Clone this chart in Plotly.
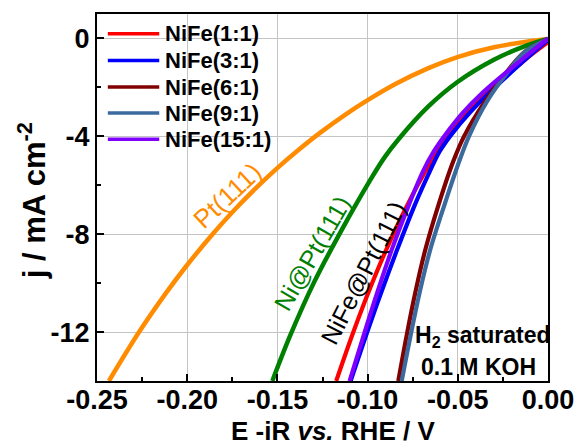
import plotly.graph_objects as go

# Polarisation curves: E - iR vs RHE (V) and current density j (mA cm^-2)
pt_E = [0.0, -0.0120, -0.0300, -0.0502, -0.0666, -0.0846, -0.0993, -0.1119, -0.1266,
        -0.1392, -0.1501, -0.1621, -0.1736, -0.1856, -0.2009, -0.2118, -0.2265, -0.2434]
pt_j = [-0.02, -0.13, -0.36, -0.76, -1.22, -1.86, -2.49, -3.09, -3.87,
        -4.61, -5.30, -6.13, -6.99, -7.97, -9.34, -10.41, -11.98, -14.0]

ni_E = [0.0, -0.0120, -0.0300, -0.0502, -0.0666, -0.0824, -0.0906, -0.0993,
        -0.1135, -0.1299, -0.1430, -0.1528]
ni_j = [-0.02, -0.29, -0.87, -1.78, -2.80, -4.08, -4.86, -5.88,
        -7.71, -10.00, -12.16, -14.0]

nife11_E = [0.0, -0.0126, -0.0338, -0.0450, -0.0546, -0.0614, -0.0680, -0.0778,
            -0.0895, -0.0993, -0.1081, -0.1174]
nife11_j = [-0.15, -0.86, -2.24, -3.06, -3.92, -4.61, -5.43, -6.78,
            -8.61, -10.33, -12.04, -14.0]

nife31_E = [0.0, -0.0126, -0.0328, -0.0437, -0.0535, -0.0600, -0.0655, -0.0737,
            -0.0835, -0.0922, -0.1004, -0.1094]
nife31_j = [-0.05, -0.86, -2.24, -3.06, -3.92, -4.61, -5.43, -6.78,
            -8.61, -10.33, -12.04, -14.0]

nife61_E = [0.0, -0.0126, -0.0213, -0.0349, -0.0464, -0.0524, -0.0606, -0.0682,
            -0.0734, -0.0781, -0.0830]
nife61_j = [-0.02, -0.53, -1.22, -2.57, -3.98, -5.00, -6.78, -8.69,
            -10.33, -12.04, -14.0]

nife91_E = [0.0, -0.0126, -0.0207, -0.0338, -0.0437, -0.0491, -0.0573, -0.0655,
            -0.0710, -0.0759, -0.0811]
nife91_j = [-0.03, -0.53, -1.22, -2.57, -3.98, -5.00, -6.78, -8.69,
            -10.33, -12.04, -14.0]

nife151_E = [0.0, -0.0145, -0.0366, -0.0475, -0.0568, -0.0633, -0.0693, -0.0770,
             -0.0865, -0.0944, -0.1018, -0.1100]
nife151_j = [0.0, -0.86, -2.24, -3.06, -3.92, -4.61, -5.43, -6.78,
             -8.61, -10.33, -12.04, -14.0]

nife_series = [
    ("NiFe(1:1)", nife11_E, nife11_j, "#ff0000"),
    ("NiFe(3:1)", nife31_E, nife31_j, "#0000ff"),
    ("NiFe(6:1)", nife61_E, nife61_j, "#800000"),
    ("NiFe(9:1)", nife91_E, nife91_j, "#3a6a9e"),
    ("NiFe(15:1)", nife151_E, nife151_j, "#8000ff"),
]

x_ticks = [-0.25, -0.20, -0.15, -0.10, -0.05, 0.00]
x_ticktext = ["-0.25", "-0.20", "-0.15", "-0.10", "-0.05", "0.00"]
y_ticks = [0, -4, -8, -12]
y_ticktext = ["0", "-4", "-8", "-12"]

FONT = "Liberation Sans, Arial, sans-serif"

fig = go.Figure()

spline = dict(shape="spline", smoothing=1.0)
fig.add_trace(go.Scatter(x=pt_E, y=pt_j, mode="lines", name="Pt(111)", showlegend=False,
                         line=dict(color="#ff8c00", width=4.5, **spline)))
fig.add_trace(go.Scatter(x=ni_E, y=ni_j, mode="lines", name="Ni@Pt(111)", showlegend=False,
                         line=dict(color="#008000", width=4.5, **spline)))
for name, es, js, color in nife_series:
    fig.add_trace(go.Scatter(x=es, y=js, mode="lines", name=name, showlegend=False,
                             line=dict(color=color, width=4.2, **spline)))

# Legend: line samples with labels in the upper-left corner of the plot
shapes = []
annotations = []
row_y = [0.946, 0.873, 0.801, 0.730, 0.659]
for (name, _, _, color), yy in zip(nife_series, row_y):
    shapes.append(dict(type="line", xref="paper", yref="paper",
                       x0=0.024, x1=0.138, y0=yy, y1=yy,
                       line=dict(color=color, width=3.5)))
    annotations.append(dict(xref="paper", yref="paper", x=0.146, y=yy,
                            text=name, showarrow=False, xanchor="left", yanchor="middle",
                            font=dict(family=FONT, size=22, color="black", weight="bold")))

# Curve labels and electrolyte note (centred on the given point)
centred = dict(showarrow=False, xanchor="center", yanchor="middle")
annotations += [
    dict(x=-0.1779, y=-6.45, text="Pt(111)", textangle=-43,
         font=dict(family=FONT, size=26, color="#ff8c00"), **centred),
    dict(x=-0.1305, y=-8.78, text="Ni@Pt(111)", textangle=-60,
         font=dict(family=FONT, size=25, color="#008000"), **centred),
    dict(x=-0.1026, y=-9.59, text="NiFe@Pt(111)", textangle=-63,
         font=dict(family=FONT, size=25, color="black"), **centred),
    dict(x=-0.0360, y=-12.2, text="H<sub>2</sub> saturated",
         font=dict(family=FONT, size=23, color="black", weight="bold"), **centred),
    dict(x=-0.0387, y=-13.43, text="0.1 M KOH",
         font=dict(family=FONT, size=23, color="black", weight="bold"), **centred),
    # axis titles
    dict(xref="paper", yref="paper", x=-0.144, y=0.49, textangle=-90,
         text="j / mA cm<sup>-2</sup>",
         font=dict(family=FONT, size=31, color="black", weight="bold"), **centred),
    dict(xref="paper", yref="paper", x=0.524, y=-0.135,
         text="E -iR <i>vs.</i> RHE / V",
         font=dict(family=FONT, size=26, color="black", weight="bold"), **centred),
]

axis_common = dict(
    showline=True, linecolor="black", linewidth=2, mirror=True,
    ticks="inside", ticklen=7, tickwidth=1.5, tickcolor="black",
    showgrid=True, gridcolor="#c4c4c4", gridwidth=1, zeroline=False,
    tickfont=dict(family=FONT, size=27, color="black", weight="bold"),
)

fig.update_layout(
    width=586, height=445,
    margin=dict(l=97, r=31, t=12, b=64),
    paper_bgcolor="white", plot_bgcolor="white",
    shapes=shapes, annotations=annotations,
    xaxis=dict(range=[-0.25, 0.0], tickvals=x_ticks, ticktext=x_ticktext,
               ticklabelstandoff=-6,
               minor=dict(dtick=0.025, ticks="inside", ticklen=4, tickcolor="black", showgrid=False),
               **axis_common),
    yaxis=dict(range=[-14, 1], tickvals=y_ticks, ticktext=y_ticktext,
               minor=dict(dtick=2, ticks="inside", ticklen=4, tickcolor="black", showgrid=False),
               **axis_common),
)

fig.write_html("out.html")
